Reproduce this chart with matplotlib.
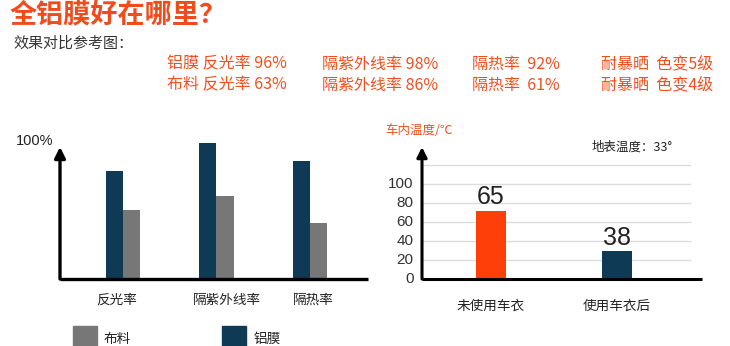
import matplotlib.pyplot as plt
from matplotlib.patches import Rectangle
import numpy as np

plt.rcParams['font.family'] = ['Noto Sans CJK SC', 'DejaVu Sans']

# left chart data (bar heights as drawn, % of axis)
categories = ['反光率', '隔紫外线率', '隔热率']
alu_values = [78, 98, 85]
cloth_values = [50, 60, 40]

# right chart data
temp_labels = ['未使用车衣', '使用车衣后']
temp_bar_heights = [72, 29]
temp_values = ['65', '38']
temp_ticks = [0, 20, 40, 60, 80, 100]

# text rows at top
row_alu = ['铝膜 反光率 96%', '隔紫外线率 98%', '隔热率  92%', '耐暴晒  色变5级']
row_cloth = ['布料 反光率 63%', '隔紫外线率 86%', '隔热率  61%', '耐暴晒  色变4级']

W, H = 730, 346
orange = '#f0501f'
dark = '#0f3a55'
gray = '#777777'
fig = plt.figure(figsize=(W / 100, H / 100), dpi=100)


def fx(px):
    return px / W


def fy(py):
    return 1 - py / H


fig.text(fx(10), fy(15), '全铝膜好在哪里？', color='#f04b1d', fontsize=19.5,
         fontweight='bold', va='center', ha='left')
fig.text(fx(13), fy(44), '效果对比参考图：', color='#333333', fontsize=10.8,
         va='center', ha='left', fontweight='medium')
col_x = [167, 322, 472, 601]
for x, a, c in zip(col_x, row_alu, row_cloth):
    fig.text(fx(x), fy(64), a, color=orange, fontsize=11.5, va='center',
             ha='left', fontweight='medium')
    fig.text(fx(x), fy(85), c, color=orange, fontsize=11.5, va='center',
             ha='left', fontweight='medium')

# ---- left chart ----
ax = fig.add_axes([fx(60), fy(279), fx(368 - 60), (279 - 140) / H])
x = np.arange(len(categories))
w = 0.187
ax.bar(x - w / 2, alu_values, w, color=dark)
ax.bar(x + w / 2, cloth_values, w, color=gray)
xmin = (60 - 123) / 93.5
ax.set_xlim(xmin, (368 - 123) / 93.5)
ax.set_ylim(0, 100)
ax.axis('off')
ax.plot([xmin, ax.get_xlim()[1]], [0, 0], color='black', lw=2.4,
        clip_on=False, solid_capstyle='butt')
ax.annotate('', xy=(xmin, 95), xytext=(xmin, 0),
            arrowprops=dict(arrowstyle='-|>', color='black', lw=2.4,
                            mutation_scale=16, shrinkA=0, shrinkB=0))
fig.text(fx(16), fy(141), '100%', fontsize=10.5, color='#222222',
         va='center', ha='left', family=['Liberation Sans'])
for xi, lab in zip([117, 227, 313], categories):
    fig.text(fx(xi), fy(300), lab, fontsize=9.8, color='#222222',
             ha='center', va='center', fontweight='medium')

# legend swatches
fig.add_artist(Rectangle((fx(73), fy(350)), fx(24), (350 - 326) / H,
                         color=gray, transform=fig.transFigure))
fig.text(fx(104), fy(339), '布料', fontsize=9.8, color='#222222', va='center',
         fontweight='medium')
fig.add_artist(Rectangle((fx(222), fy(350)), fx(24), (350 - 326) / H,
                         color=dark, transform=fig.transFigure))
fig.text(fx(254), fy(339), '铝膜', fontsize=9.8, color='#222222', va='center',
         fontweight='medium')

# ---- right chart ----
ax2 = fig.add_axes([fx(422), fy(279), fx(702 - 422), (279 - 147) / H])
unit = 126
x2min = (422 - 491) / unit
x2max = (702 - 491) / unit
grid_end = (690 - 491) / unit
for g in [20, 40, 60, 80, 100, 120]:
    ax2.plot([x2min, grid_end], [g, g], color='#dddddd', lw=1, zorder=0)
xb = np.arange(len(temp_labels))
bars = ax2.bar(xb, temp_bar_heights, 0.238, color=['#ff3f0a', dark], zorder=2)
for b, v in zip(bars, temp_values):
    ax2.annotate(v, (b.get_x() + b.get_width() / 2, b.get_height()),
                 xytext=(0, 1), textcoords='offset points', ha='center',
                 va='bottom', fontsize=18, color='#222222',
                 family=['Liberation Sans'])
ax2.set_xlim(x2min, x2max)
ax2.set_ylim(0, 139)
ax2.axis('off')
ax2.plot([x2min, x2max], [0, 0], color='black', lw=2.2, clip_on=False,
         solid_capstyle='butt')
ax2.annotate('', xy=(x2min, 139), xytext=(x2min, 0),
             arrowprops=dict(arrowstyle='-|>', color='black', lw=2.2,
                             mutation_scale=15, shrinkA=0, shrinkB=0))
for t in temp_ticks:
    ax2.annotate(str(t), (x2min, t), xytext=(-6, 0), textcoords='offset points',
                 ha='right', va='center', fontsize=11, color='#333333',
                 family=['Liberation Sans'], annotation_clip=False)
for xi, lab in zip(xb, temp_labels):
    ax2.annotate(lab, (xi, 0), xytext=(0, -19), textcoords='offset points',
                 ha='center', va='center', fontsize=9.8, color='#222222',
                 annotation_clip=False, fontweight='medium')
fig.text(fx(385), fy(130), '车内温度/℃', fontsize=9, color=orange,
         ha='left', va='center', fontweight='medium')
fig.text(fx(592), fy(147), '地表温度：33°', fontsize=9, color='#222222',
         ha='left', va='center', fontweight='medium')

fig.savefig('out.png', dpi=100)
